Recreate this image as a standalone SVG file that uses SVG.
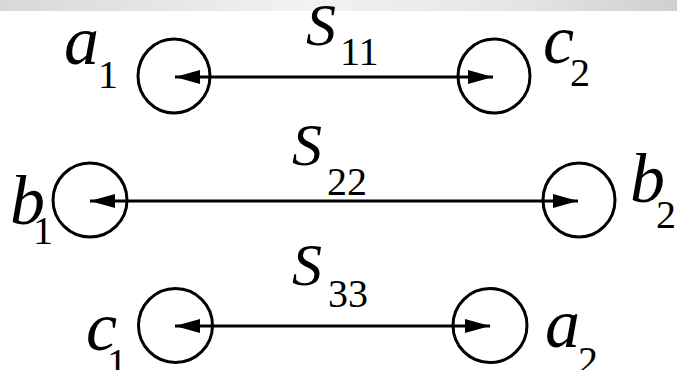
<svg xmlns="http://www.w3.org/2000/svg" width="677" height="370" viewBox="0 0 677 370">
<style>
.port{fill:none;stroke:#000;stroke-width:3}
.conn{stroke:#000;stroke-width:3.2;fill:none}
.v,.s,.d{font-family:'Liberation Serif','Times New Roman',Tinos,'DejaVu Serif',serif;fill:#000}
.v{font-style:italic;font-size:70px}
.s{font-style:italic;font-size:60px}
.d{font-style:normal;font-size:40px}
</style>
<defs>
<linearGradient id="strip" x1="0" y1="0" x2="1" y2="0">
<stop offset="0" stop-color="#d8d8d8"/>
<stop offset="0.45" stop-color="#f2f2f2"/>
<stop offset="0.75" stop-color="#e6e6e6"/>
<stop offset="1" stop-color="#cfcfcf"/>
</linearGradient>
<marker id="ah" markerUnits="userSpaceOnUse" markerWidth="26" markerHeight="16" refX="25" refY="8" orient="auto-start-reverse" viewBox="0 0 26 16">
<path d="M0,1 L25,8 L0,15 Z" fill="#000"/>
</marker>
</defs>
<rect width="677" height="370" fill="#fff"/>
<rect x="0" y="0" width="677" height="11" fill="url(#strip)"/>

<g id="a1">
<ellipse class="port" cx="174" cy="76" rx="36" ry="37"/>
<text class="v" x="64" y="64">a</text><text class="d" x="98" y="88">1</text>
</g>
<g id="c2">
<ellipse class="port" cx="494" cy="76" rx="36" ry="37"/>
<text class="v" x="543" y="63">c</text><text class="d" x="570" y="86">2</text>
</g>
<g id="b1">
<ellipse class="port" cx="90" cy="200" rx="37" ry="37"/>
<text class="v" x="10" y="224">b</text><text class="d" x="33" y="244">1</text>
</g>
<g id="b2">
<ellipse class="port" cx="579" cy="200" rx="36" ry="37"/>
<text class="v" x="630" y="202">b</text><text class="d" x="656" y="228">2</text>
</g>
<g id="c1">
<ellipse class="port" cx="175.5" cy="325.5" rx="37" ry="37"/>
<text class="v" x="86" y="350">c</text><text class="d" x="107" y="376">1</text>
</g>
<g id="a2">
<ellipse class="port" cx="490" cy="325.5" rx="37" ry="37"/>
<text class="v" x="545" y="347">a</text><text class="d" x="578" y="374">2</text>
</g>

<g id="connectors">
<line class="conn" x1="175" y1="77" x2="493" y2="77" marker-start="url(#ah)" marker-end="url(#ah)"/>
<line class="conn" x1="90" y1="201" x2="578" y2="201" marker-start="url(#ah)" marker-end="url(#ah)"/>
<line class="conn" x1="175" y1="326" x2="490" y2="326" marker-start="url(#ah)" marker-end="url(#ah)"/>
<text class="s" x="306" y="45">S</text><text class="d" x="340" y="65">11</text>
<text class="s" x="292" y="165">S</text><text class="d" x="327" y="195">22</text>
<text class="s" x="292" y="285">S</text><text class="d" x="328" y="307">33</text>
</g>
</svg>
